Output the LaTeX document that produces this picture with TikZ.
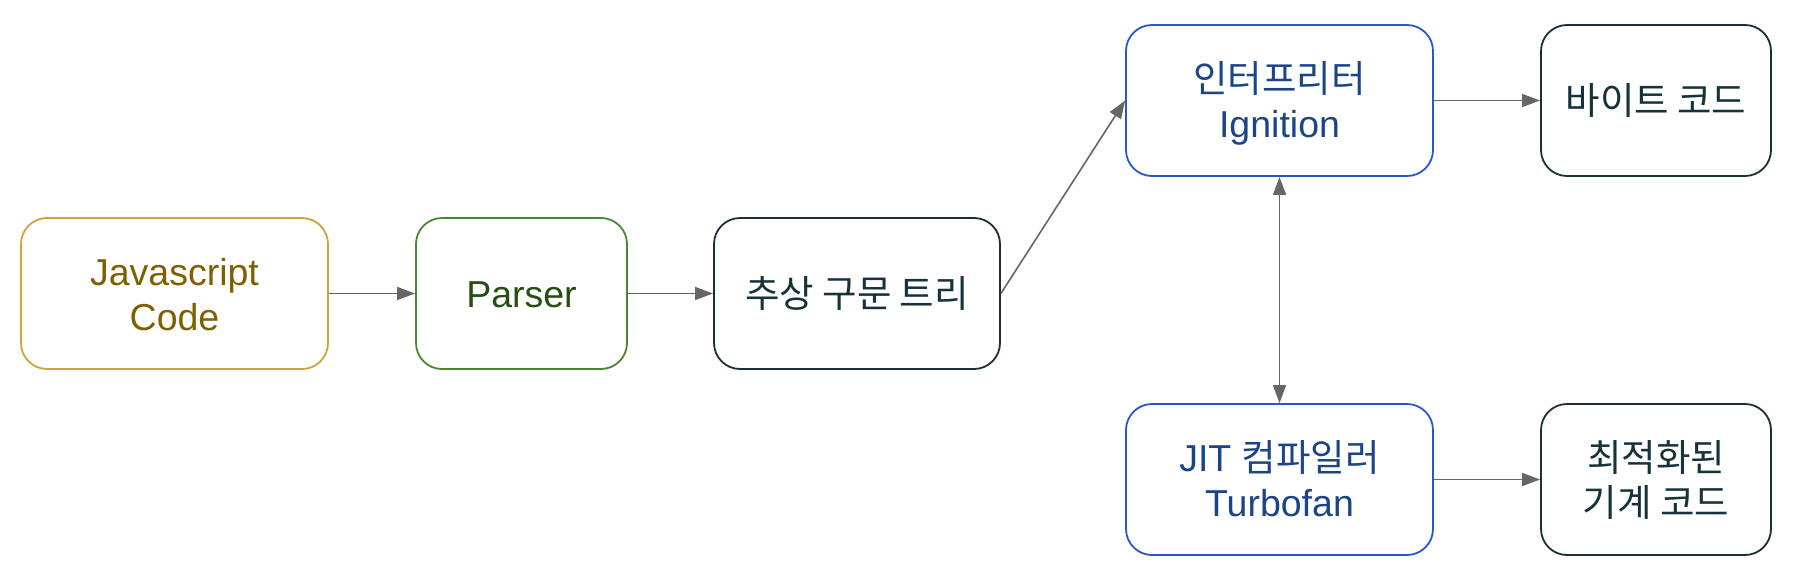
\documentclass[tikz,border=0pt]{standalone}
\usepackage{fontspec}
\setmainfont{Liberation Sans}
\newfontfamily\kr{Noto Sans CJK KR}
\usetikzlibrary{arrows.meta}
\definecolor{jsborder}{HTML}{CDA43A}
\definecolor{jstext}{HTML}{7F6000}
\definecolor{psborder}{HTML}{4A8530}
\definecolor{pstext}{HTML}{274E13}
\definecolor{dkborder}{HTML}{1B3036}
\definecolor{dktext}{HTML}{16323A}
\definecolor{blborder}{HTML}{2A56CC}
\definecolor{bltext}{HTML}{1C4587}
\definecolor{arr}{HTML}{666666}
\newcommand{\topstrut}{\rule{0pt}{36pt}}
\newcommand{\botstrut}{\rule[-8pt]{0pt}{8pt}}
\tikzset{
  box/.style={draw, line width=1.8pt, rounded corners=26pt, align=center,
    inner sep=0pt, minimum height=151pt,
    font=\fontsize{37.5}{45}\selectfont},
  link/.style={draw=arr, line width=1.6pt, -{Triangle[length=18pt,width=13pt]}},
  dlink/.style={draw=arr, line width=1.6pt, {Triangle[length=18pt,width=13pt]}-{Triangle[length=18pt,width=13pt]}}
}
\begin{document}
\begin{tikzpicture}[x=1pt,y=-1pt]
\useasboundingbox (0,0) rectangle (1806,570);
\node[box, draw=jsborder, text=jstext, minimum width=307pt] (js) at (174.5,293.5) {\topstrut Javascript\\Code\botstrut};
\node[box, draw=psborder, text=pstext, minimum width=211pt] (ps) at (521.5,293.5) {\topstrut Parser\botstrut};
\node[box, draw=dkborder, text=dktext, minimum width=286pt] (ast) at (857,293.5) {\topstrut{\kr 추상 구문 트리}\botstrut};
\node[box, draw=blborder, text=bltext, minimum width=307pt] (ign) at (1279.5,100.5) {\topstrut{\kr 인터프리터}\\Ignition\botstrut};
\node[box, draw=dkborder, text=dktext, minimum width=230pt] (bc) at (1656,100.5) {\topstrut{\kr 바이트 코드}\botstrut};
\node[box, draw=blborder, text=bltext, minimum width=307pt] (jit) at (1279.5,479.5) {\topstrut JIT {\kr 컴파일러}\\Turbofan\botstrut};
\node[box, draw=dkborder, text=dktext, minimum width=230pt] (mc) at (1656,479.5) {\topstrut{\kr 최적화된}\\{\kr 기계 코드}\botstrut};
\draw[link] (js) -- (ps);
\draw[link] (ps) -- (ast);
\draw[link] (ast.east) -- (ign.west);
\draw[link] (ign) -- (bc);
\draw[link] (jit) -- (mc);
\draw[dlink] (ign) -- (jit);
\end{tikzpicture}
\end{document}
